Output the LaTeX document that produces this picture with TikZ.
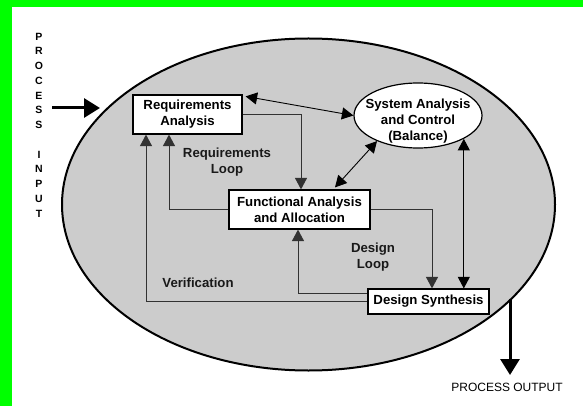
\documentclass[tikz,border=0pt]{standalone}
\usepackage{fontspec}
\setmainfont{Liberation Sans}
\usetikzlibrary{arrows.meta,shapes.geometric,calc}
\definecolor{bggreen}{RGB}{0,255,0}
\definecolor{ellgray}{RGB}{204,204,204}
\definecolor{linegray}{RGB}{50,50,50}
\begin{document}
\begin{tikzpicture}[x=1pt,y=-1pt,
  boxstyle/.style={draw=black, line width=1.2pt, fill=white, inner sep=0pt, align=center,
    font=\bfseries\fontsize{13.2}{16}\selectfont},
  lbl/.style={align=center, inner sep=0pt, font=\bfseries\fontsize{13.2}{16}\selectfont, text=black!90},
  conn/.style={draw=linegray, line width=0.9pt, -{Triangle[length=11.5pt,width=12pt]}},
  dconn/.style={draw=black, line width=0.9pt, {Triangle[length=11.5pt,width=12pt]}-{Triangle[length=11.5pt,width=12pt]}},
  bigarrow/.style={draw=black, line width=3pt, -{Triangle[length=16pt,width=19pt]}}
]
\useasboundingbox (0,0) rectangle (583,406);
\fill[white] (0,0) rectangle (583,406);
\fill[bggreen] (0,0) rectangle (583,7);
\fill[bggreen] (0,0) rectangle (11.5,406);

% big ellipse
\node[ellipse, draw=black, line width=2pt, fill=ellgray, minimum width=493pt, minimum height=332pt, inner sep=0pt] (E) at (308.5,204.5) {};

% boxes
\node[boxstyle, minimum width=109pt, minimum height=39pt] (RA) at (187.5,114.5) {Requirements\\Analysis};
\node[boxstyle, minimum width=141pt, minimum height=39pt] (FA) at (299.5,209.5) {Functional Analysis\\and Allocation};
\node[boxstyle, minimum width=121pt, minimum height=25pt] (DS) at (428.5,301.5) {Design Synthesis};
\node[ellipse, draw=black, line width=1.2pt, fill=white, minimum width=128pt, minimum height=65pt, inner sep=0pt] (SAC) at (418,115.5) {};
\node[lbl, text=black] (SACt) at (418,121) {System Analysis\\and Control\\(Balance)};

% labels
\node[lbl] (RL) at (227,162) {Requirements\\Loop};
\node[lbl] (DL) at (373,257) {Design\\Loop};
\node[lbl] (VF) at (198,283) {Verification};

% connectors
\draw[conn] (RA.east) -| ([xshift=1.5pt]FA.north);
\draw[conn] (FA.west) -| ([xshift=-18.5pt]RA.south);
\draw[conn] (DS.west) -| ([xshift=-41.5pt]RA.south);
\draw[conn] (FA.east) -| ([xshift=3.5pt]DS.north);
\draw[conn] ([yshift=8.5pt]DS.west) -| ([xshift=-1.5pt]FA.south);
\draw[dconn] ([xshift=3pt,yshift=-2pt]RA.north east) -- (SAC.west);
\draw[dconn] (SAC.-148) -- ([xshift=35.5pt,yshift=2pt]FA.north);
\draw[dconn] (SAC.-27.2) -- (SAC.-27.2 |- DS.north);

% process input / output
\node[align=center, inner sep=0pt, font=\bfseries\fontsize{10.5}{14.75}\selectfont] (PI) at (39,125) {P\\R\\O\\C\\E\\S\\S\\~\\I\\N\\P\\U\\T};
\coordinate (in0) at (52,108);
\coordinate (in1) at (100,108);
\draw[bigarrow] (in0) -- (in1);
\coordinate (out0) at (510,299);
\coordinate (out1) at (510,375);
\draw[bigarrow] (out0) -- (out1);
\node[inner sep=0pt, font=\fontsize{12}{14}\selectfont] (PO) at (507,387) {PROCESS OUTPUT};
\end{tikzpicture}
\end{document}
